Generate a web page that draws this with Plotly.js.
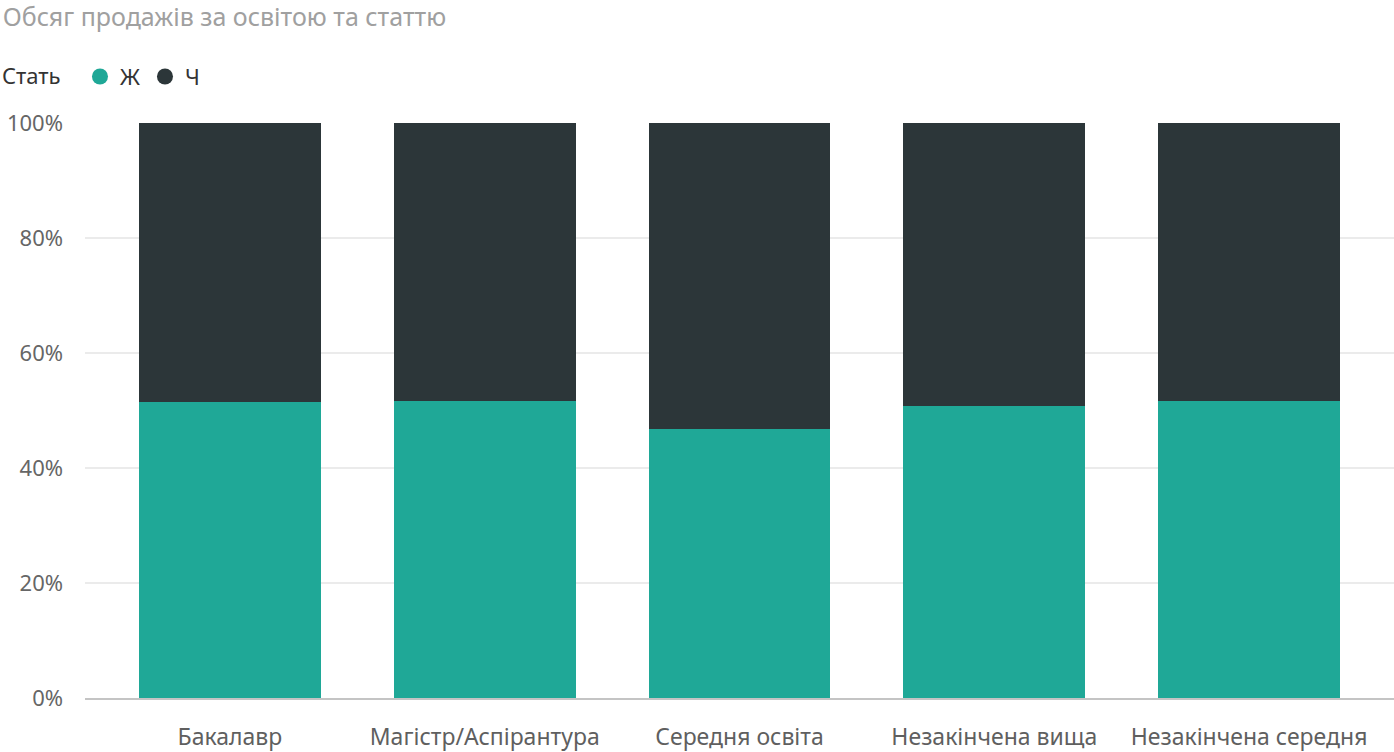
<!DOCTYPE html>
<html>
<head>
<meta charset="utf-8">
<script src="https://cdn.plot.ly/plotly-3.0.1.min.js"></script>
<style>
  html, body { margin: 0; padding: 0; background: #fff; }
  #chart { width: 1394px; height: 752px; }
</style>
</head>
<body>
<div id="chart"></div>
<script>
// Категорії освіти
const categories = ['Бакалавр', 'Магістр/Аспірантура', 'Середня освіта', 'Незакінчена вища', 'Незакінчена середня'];
// Частка продажів, %
const female = [51.5, 51.7, 46.7, 50.7, 51.6];
const male = [48.5, 48.3, 53.3, 49.3, 48.4];
const yTicks = [0, 20, 40, 60, 80, 100];
const yTickLabels = ['0%', '20%', '40%', '60%', '80%', '100%'];

const teal = '#1fa897';
const dark = '#2c3639';
const font = '"Noto Sans", "Open Sans", sans-serif';

const barF = {
  type: 'bar', name: 'Ж', x: categories, y: female,
  marker: { color: teal }, showlegend: false, hoverinfo: 'x+y'
};
const barM = {
  type: 'bar', name: 'Ч', x: categories, y: male,
  marker: { color: dark }, showlegend: false, hoverinfo: 'x+y'
};

// легенда з круглими маркерами
const legF = {
  type: 'scatter', mode: 'markers', name: 'Ж', x: [null], y: [null],
  marker: { color: teal, size: 22, symbol: 'circle' }
};
const legM = {
  type: 'scatter', mode: 'markers', name: 'Ч', x: [null], y: [null],
  marker: { color: dark, size: 22, symbol: 'circle' }
};

const layout = {
  width: 1394,
  height: 752,
  barmode: 'stack',
  bargap: 0.286,
  paper_bgcolor: '#fff',
  plot_bgcolor: '#fff',
  font: { family: font, color: '#666' },
  margin: { l: 85, r: 0, t: 123, b: 54 },
  title: {
    text: 'Обсяг продажів за освітою та статтю',
    font: { family: font, size: 25, color: '#a0a0a0' },
    x: 0.002, xref: 'container', xanchor: 'left',
    y: 0.977, yref: 'container', yanchor: 'middle'
  },
  showlegend: true,
  legend: {
    orientation: 'h',
    traceorder: 'normal',
    xref: 'container', yref: 'container',
    x: 0, xanchor: 'left',
    y: 0.898, yanchor: 'middle',
    title: { text: 'Стать  ', side: 'left', font: { family: font, size: 22, color: '#333' } },
    font: { family: font, size: 22, color: '#333' },
    itemwidth: 30,
    tracegroupgap: 0
  },
  xaxis: {
    type: 'category',
    range: [-0.569, 4.569],
    showgrid: false,
    showline: true,
    linecolor: '#c4c4c4',
    linewidth: 2,
    ticks: '',
    tickfont: { family: font, size: 23, color: '#5f5f5f' },
    ticklabelstandoff: 17,
    fixedrange: true
  },
  yaxis: {
    range: [0, 100],
    tickvals: yTicks,
    ticktext: yTickLabels,
    showgrid: true,
    gridcolor: '#ebebeb',
    gridwidth: 1.5,
    zeroline: false,
    showline: false,
    ticks: '',
    tickfont: { family: font, size: 22, color: '#666' },
    ticklabelstandoff: 21,
    fixedrange: true
  }
};

Plotly.newPlot('chart', [barF, barM, legF, legM], layout, { displayModeBar: false, staticPlot: true });
</script>
</body>
</html>
